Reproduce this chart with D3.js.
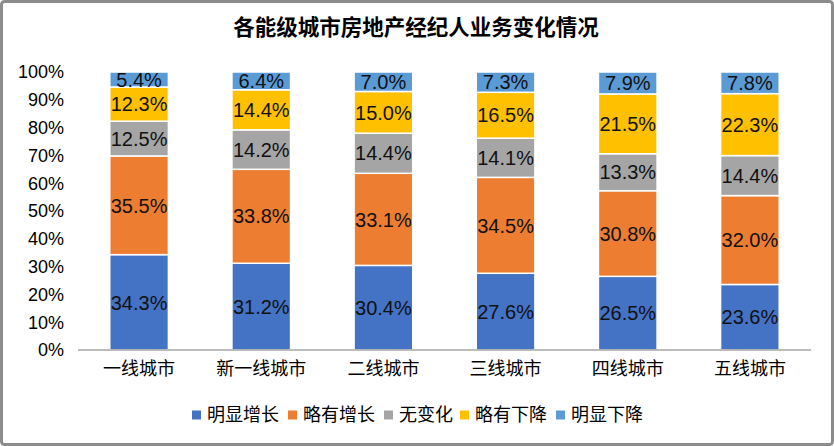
<!DOCTYPE html>
<html>
<head>
<meta charset="utf-8">
<script src="https://cdn.jsdelivr.net/npm/d3@7"></script>
<style>
  html, body { margin: 0; padding: 0; background: #fff; }
  svg text { font-family: Helvetica, Arial, "Liberation Sans", "Noto Sans CJK SC", sans-serif; }
</style>
</head>
<body>
<svg id="chart" width="834" height="446"></svg>
<script>
const cities = ['一线城市', '新一线城市', '二线城市', '三线城市', '四线城市', '五线城市'];
const seriesNames = ['明显增长', '略有增长', '无变化', '略有下降', '明显下降'];
const seriesColors = ['#4472C4', '#ED7D31', '#A5A5A5', '#FFC000', '#5B9BD5'];

const bigUp = [34.3, 31.2, 30.4, 27.6, 26.5, 23.6];
const smallUp = [35.5, 33.8, 33.1, 34.5, 30.8, 32.0];
const noChange = [12.5, 14.2, 14.4, 14.1, 13.3, 14.4];
const smallDown = [12.3, 14.4, 15.0, 16.5, 21.5, 22.3];
const bigDown = [5.4, 6.4, 7.0, 7.3, 7.9, 7.8];

const yTicks = [0, 10, 20, 30, 40, 50, 60, 70, 80, 90, 100];

const svg = d3.select('#chart');
const W = 834, H = 446;

// outer frame
svg.append('rect')
  .attr('x', 1.5).attr('y', 1.5)
  .attr('width', W - 3).attr('height', H - 3)
  .attr('rx', 3)
  .attr('fill', '#fff')
  .attr('stroke', '#8c8c8c')
  .attr('stroke-width', 3);

svg.append('text')
  .attr('x', 416).attr('y', 35)
  .attr('text-anchor', 'middle')
  .attr('font-size', 21.5)
  .attr('font-weight', 'bold')
  .attr('fill', '#000')
  .text('各能级城市房地产经纪人业务变化情况');

const allSeries = [bigUp, smallUp, noChange, smallDown, bigDown];
const rows = cities.map((c, i) => {
  const r = { city: c };
  seriesNames.forEach((s, j) => { r[s] = allSeries[j][i]; });
  return r;
});

const stacked = d3.stack().keys(seriesNames)
  .offset(d3.stackOffsetExpand)(rows);

const x = d3.scaleBand().domain(cities).range([78, 811]).paddingInner(0.52).paddingOuter(0.26);
const y = d3.scaleLinear().domain([0, 1]).range([350, 72]);

// y axis labels
svg.append('g').selectAll('text')
  .data(yTicks)
  .join('text')
  .attr('x', 64)
  .attr('y', d => y(d / 100))
  .attr('dy', '0.35em')
  .attr('text-anchor', 'end')
  .attr('font-size', 18)
  .attr('fill', '#000')
  .text(d => d + '%');

// bars
const groups = svg.append('g').selectAll('g')
  .data(stacked)
  .join('g')
  .attr('fill', (d, i) => seriesColors[i]);

groups.selectAll('rect')
  .data(d => d)
  .join('rect')
  .attr('x', d => x(d.data.city))
  .attr('y', d => y(d[1]))
  .attr('width', x.bandwidth())
  .attr('height', d => y(d[0]) - y(d[1]))
  .attr('stroke', '#fff')
  .attr('stroke-width', 1.5);

// value labels
stacked.forEach((layer, i) => {
  svg.append('g').selectAll('text')
    .data(layer)
    .join('text')
    .attr('x', d => x(d.data.city) + x.bandwidth() / 2)
    .attr('y', d => (y(d[0]) + y(d[1])) / 2)
    .attr('dy', '0.36em')
    .attr('text-anchor', 'middle')
    .attr('font-size', 20)
    .attr('fill', '#111')
    .text(d => d.data[layer.key].toFixed(1) + '%');
});

// x axis line
svg.append('line')
  .attr('x1', 78).attr('x2', 811)
  .attr('y1', y(0)).attr('y2', y(0))
  .attr('stroke', '#a6a6a6')
  .attr('stroke-width', 1.5);

const xAxis = d3.axisBottom(x).tickSize(0).tickPadding(12);
const xg = svg.append('g')
  .attr('transform', `translate(0,${y(0)})`)
  .call(xAxis);
xg.select('.domain').remove();
xg.selectAll('text')
  .attr('font-size', 18)
  .attr('fill', '#000')
  .attr('font-family', 'Helvetica, Arial, "Liberation Sans", "Noto Sans CJK SC", sans-serif');

// legend
const legendX = [192, 288, 384, 460, 556];
const legend = svg.append('g').selectAll('g')
  .data(seriesNames)
  .join('g')
  .attr('transform', (d, i) => `translate(${legendX[i]},415)`);
legend.append('rect')
  .attr('x', 0).attr('y', -4.5)
  .attr('width', 9).attr('height', 9)
  .attr('fill', (d, i) => seriesColors[i]);
legend.append('text')
  .attr('x', 15)
  .attr('dy', '0.36em')
  .attr('font-size', 18)
  .attr('fill', '#000')
  .text(d => d);
</script>
</body>
</html>
